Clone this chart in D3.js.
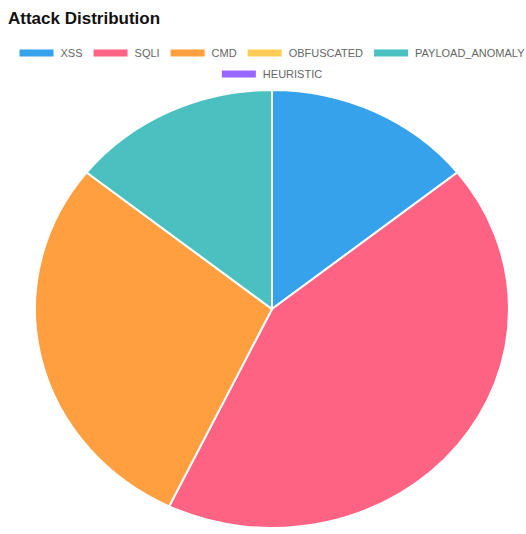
<!DOCTYPE html>
<html><head><meta charset="utf-8">
<script src="https://cdn.jsdelivr.net/npm/d3@7"></script>
<style>body{margin:0;background:#fff;}svg{display:block;}</style>
</head><body>
<svg id="chart" width="526" height="534"></svg>
<script>
const categories = ["XSS","SQLI","CMD","OBFUSCATED","PAYLOAD_ANOMALY","HEURISTIC"];
const values = [1,3,2,0,1,0];
const colors = ["#36A2EB","#FF6384","#FF9F40","#FFCD56","#4BC0C0","#9966FF"];
const title = "Attack Distribution";

const svg = d3.select("#chart");
const font = "'Liberation Sans', Arial, Helvetica, sans-serif";

svg.append("text").attr("x",8).attr("y",24)
  .attr("font-family",font).attr("font-weight","bold").attr("font-size",17)
  .attr("fill","#111").text(title);

// Legend
const boxW = 34, boxH = 7, gapT = 7, gapItem = 11, fs = 11;
const rows = [[0,1,2,3,4],[5]];
const rowY = [53, 74];
const measure = svg.append("text").attr("font-family",font).attr("font-size",fs);
function tw(s){ measure.text(s); return measure.node().getComputedTextLength(); }
const leg = svg.append("g");
rows.forEach((row,ri)=>{
  const widths = row.map(i=>boxW+gapT+tw(categories[i]));
  const total = d3.sum(widths)+gapItem*(row.length-1);
  let x = 272 - total/2;
  row.forEach((i,k)=>{
    const g = leg.append("g").attr("transform",`translate(${x},${rowY[ri]})`);
    g.append("rect").attr("x",0).attr("y",-boxH/2).attr("width",boxW).attr("height",boxH)
      .attr("fill",colors[i]);
    g.append("text").attr("x",boxW+gapT).attr("y",4).attr("font-family",font)
      .attr("font-size",fs).attr("fill","#666").text(categories[i]);
    x += widths[k]+gapItem;
  });
});
measure.remove();

// Pie
const cx = 272, cy = 309, rx = 237, ry = 219;
const pie = d3.pie().sort(null).value(d=>d.v);
const arc = d3.arc().innerRadius(0).outerRadius(ry);
const data = categories.map((c,i)=>({c, v:values[i], col:colors[i]}));
const g = svg.append("g").attr("transform",`translate(${cx},${cy}) scale(${rx/ry},1)`);
g.selectAll("path").data(pie(data)).join("path")
  .attr("d",arc).attr("fill",d=>d.data.col)
  .attr("stroke","#fff").attr("stroke-width",2)
  .attr("vector-effect","non-scaling-stroke");
</script>
</body></html>
